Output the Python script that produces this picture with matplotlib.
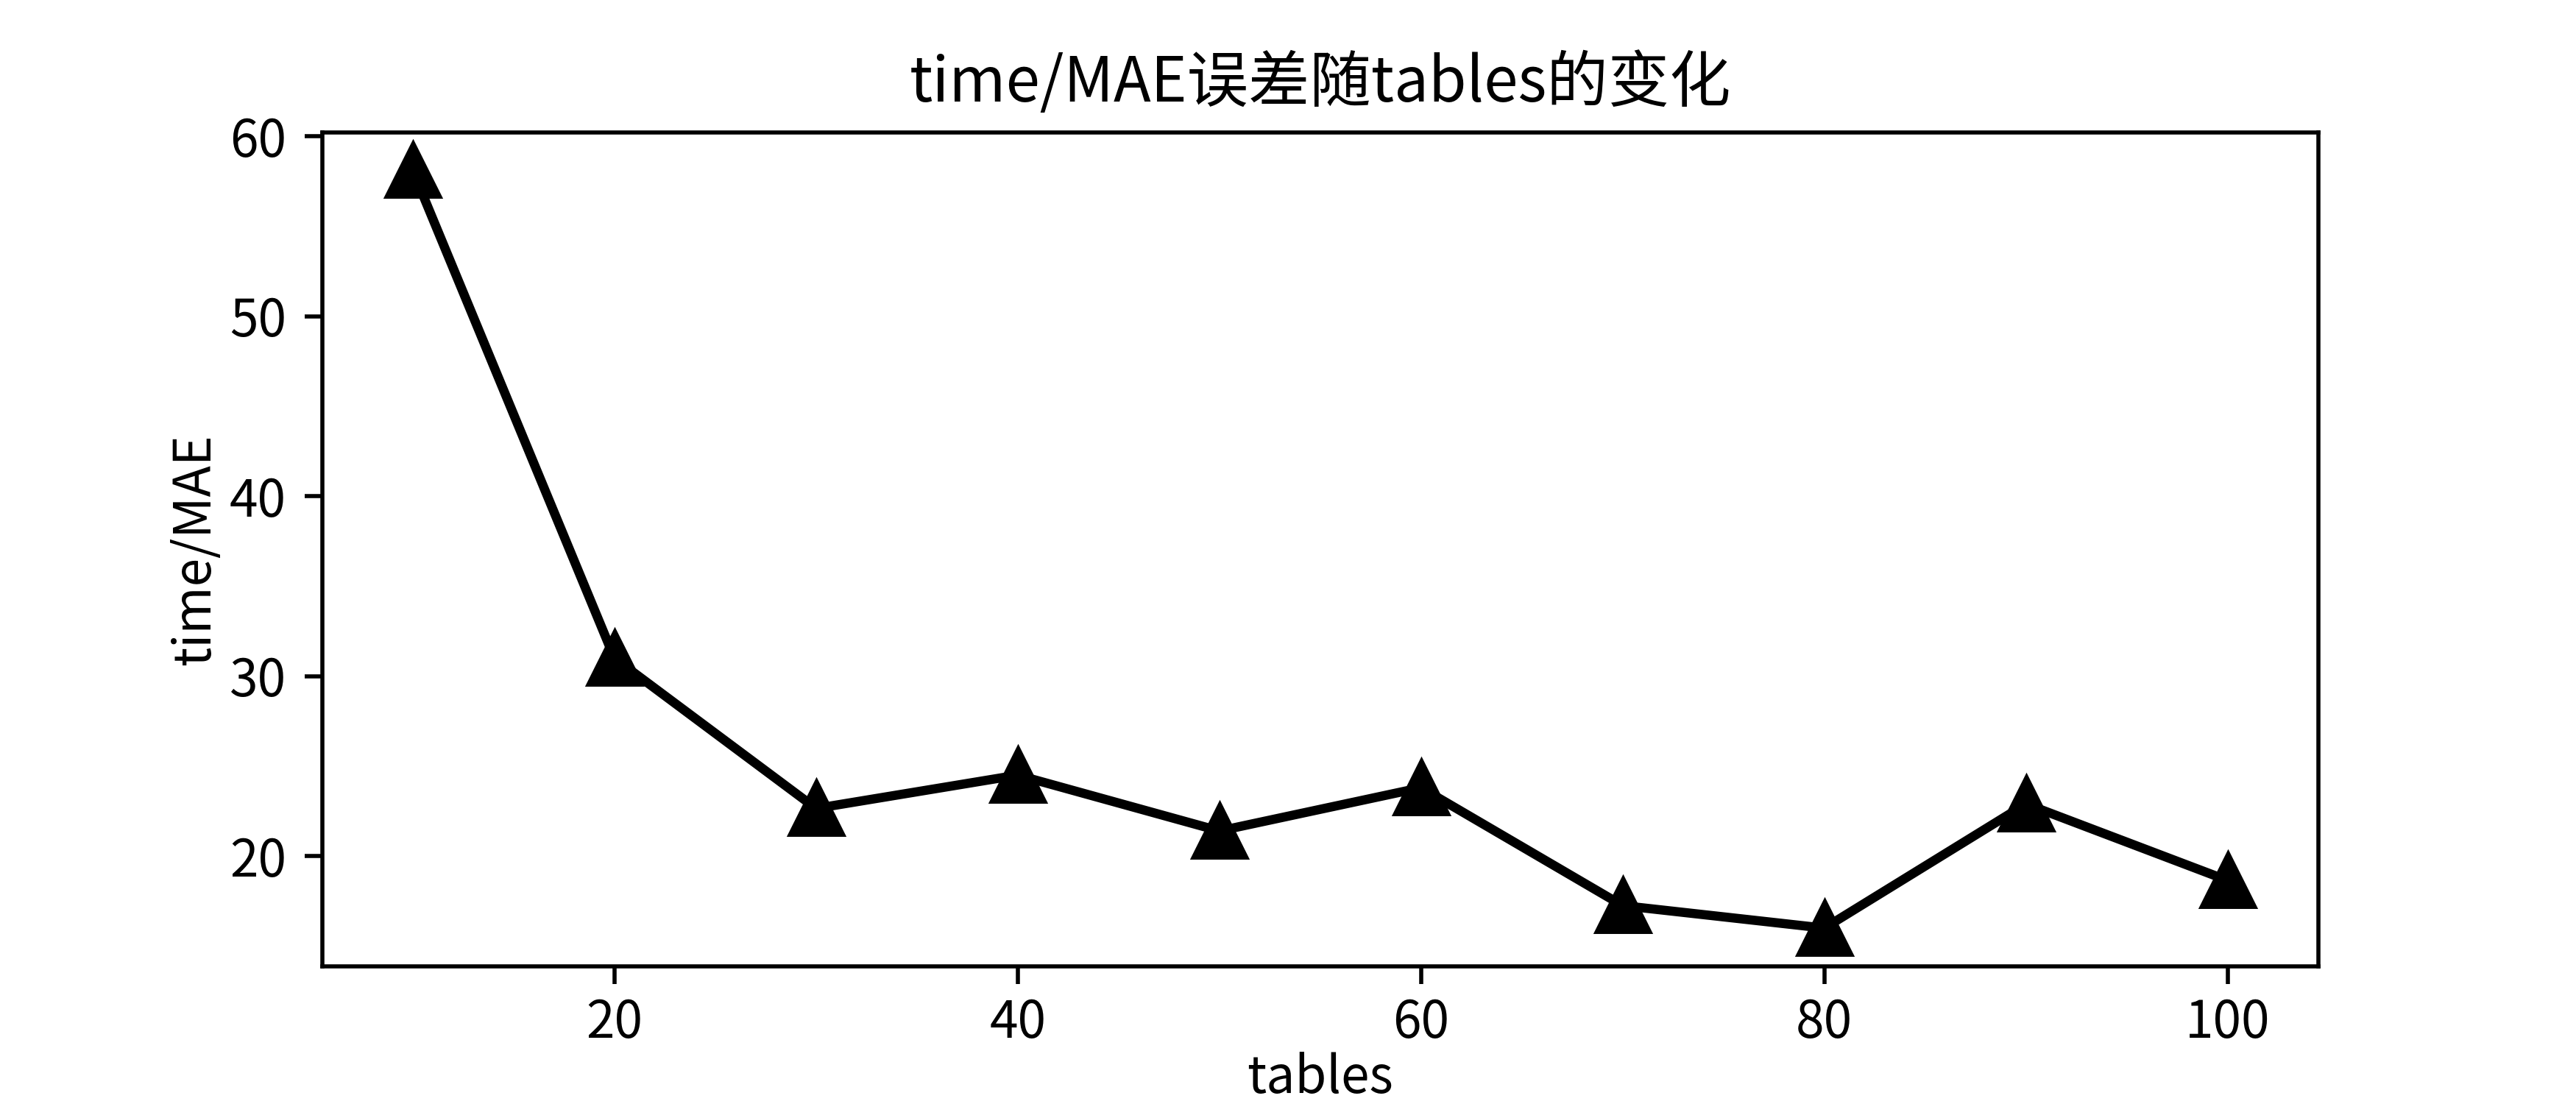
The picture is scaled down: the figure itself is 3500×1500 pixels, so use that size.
import matplotlib
matplotlib.use('Agg')
import matplotlib.pyplot as plt
import numpy as np

plt.rcParams['font.family'] = ['Noto Sans CJK SC', 'DejaVu Sans']
plt.rcParams['axes.unicode_minus'] = False

tables = np.array([10, 20, 30, 40, 50, 60, 70, 80, 90, 100])
time_mae = np.array([58.1, 31.0, 22.65, 24.5, 21.4, 23.8, 17.25, 16.0, 22.9, 18.65])

fig = plt.figure(figsize=(7, 3), dpi=500)
ax = fig.add_axes([0.125, 0.125, 0.775, 0.755])
ax.plot(tables, time_mae, 'k-', marker='^', markersize=10, linewidth=1.8)
ax.tick_params(axis='x', pad=2.5)
ax.set_xlabel('tables', labelpad=0.5)
ax.set_ylabel('time/MAE', labelpad=1.5)
ax.set_title('time/MAE误差随tables的变化')
fig.savefig('out.png', dpi=500)
